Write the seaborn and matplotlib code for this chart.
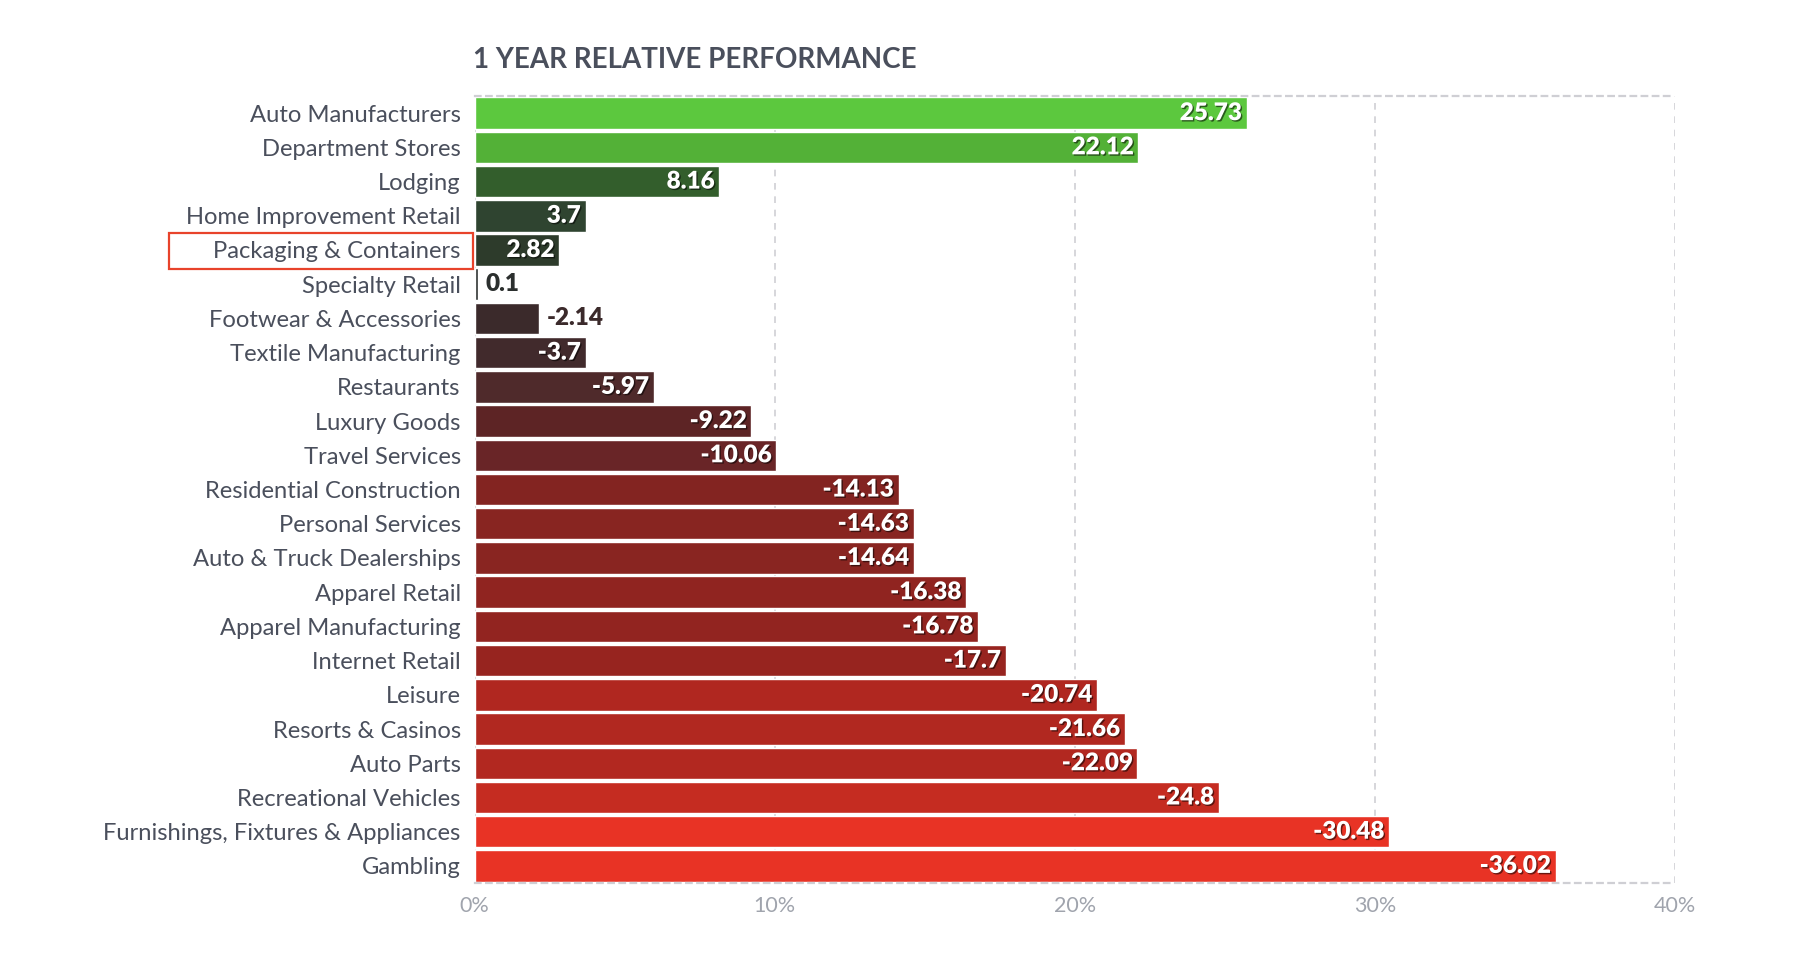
import numpy as np
import pandas as pd
import matplotlib
matplotlib.use('Agg')
import matplotlib.pyplot as plt
import matplotlib.patheffects as pe
from matplotlib.patches import Rectangle
import seaborn as sns

# chart data
industries = ['Auto Manufacturers', 'Department Stores', 'Lodging', 'Home Improvement Retail',
              'Packaging & Containers', 'Specialty Retail', 'Footwear & Accessories',
              'Textile Manufacturing', 'Restaurants', 'Luxury Goods', 'Travel Services',
              'Residential Construction', 'Personal Services', 'Auto & Truck Dealerships',
              'Apparel Retail', 'Apparel Manufacturing', 'Internet Retail', 'Leisure',
              'Resorts & Casinos', 'Auto Parts', 'Recreational Vehicles',
              'Furnishings, Fixtures & Appliances', 'Gambling']
performance = [25.73, 22.12, 8.16, 3.7, 2.82, 0.1, -2.14, -3.7, -5.97, -9.22, -10.06,
               -14.13, -14.63, -14.64, -16.38, -16.78, -17.7, -20.74, -21.66, -22.09,
               -24.8, -30.48, -36.02]
bar_colors = ['#5cc83e', '#53b137', '#335e2c', '#2f4430', '#2d3b2b', '#2b2f2e', '#3b2a2b',
              '#412a2c', '#4f2a2b', '#5d2425', '#692527', '#832421', '#882521', '#892521',
              '#902420', '#922420', '#97241f', '#b02720', '#b12820', '#b22820', '#c52c21',
              '#e83325', '#e83325']
tick_values = [0, 10, 20, 30, 40]
tick_labels = ['0%', '10%', '20%', '30%', '40%']
highlight = 'Packaging & Containers'

sns.set_style('white')
plt.rcParams['font.family'] = ['Lato', 'DejaVu Sans']

df = pd.DataFrame({'industry': industries, 'value': performance})
df['size'] = df['value'].abs()

fig = plt.figure(figsize=(18.1, 9.64), dpi=100)
ax = fig.add_axes([0.2622, 0.0840, 0.6632, 0.8164])

sns.barplot(data=df, y='industry', x='size', hue='industry', palette=bar_colors,
            dodge=False, legend=False, width=0.92, saturation=1, ax=ax, zorder=2)

ax.set_xlim(0, 40)
ax.set_ylim(len(industries) - 0.5, -0.5)
ax.set_xticks(tick_values)
ax.set_xticklabels(tick_labels)
ax.set_xlabel('')
ax.set_ylabel('')

# grid + borders
ax.set_axisbelow(True)
ax.xaxis.grid(True, color='#cfcfd4', linestyle=(0, (4, 4)), linewidth=1.2)
ax.yaxis.grid(False)
for side in ['left', 'right']:
    ax.spines[side].set_visible(False)
for side in ['top', 'bottom']:
    ax.spines[side].set_color('#cfcfd4')
    ax.spines[side].set_linestyle((0, (2.5, 2.5)))
    ax.spines[side].set_linewidth(1.6)

ax.tick_params(axis='y', length=0, pad=10, labelsize=17.1, labelcolor='#4a4f5c')
ax.tick_params(axis='x', length=0, pad=9, labelsize=15.5, labelcolor='#a0a4ad')

# value labels
shadow = [pe.withSimplePatchShadow(offset=(1, -1), shadow_rgbFace='#000000', alpha=0.55)]
for i, (v, c) in enumerate(zip(performance, bar_colors)):
    txt = f'{v:g}'
    if abs(v) > 2.5:
        ax.annotate(txt, (abs(v), i), xytext=(-3.5, 0), textcoords='offset points',
                    ha='right', va='center', color='white', fontsize=17.5,
                    fontweight='heavy', path_effects=shadow, zorder=4)
    else:
        ax.annotate(txt, (abs(v), i), xytext=(6, 0), textcoords='offset points',
                    ha='left', va='center', color=c, fontsize=17.5,
                    fontweight='heavy', zorder=4)

# highlight box around one category label
hi = industries.index(highlight)
trans = matplotlib.transforms.blended_transform_factory(ax.transAxes, ax.transData)
ax.add_patch(Rectangle((-0.2546, hi - 0.505), 0.2529, 1.06, transform=trans,
                       fill=False, edgecolor='#e8432b', linewidth=1.6, clip_on=False))

fig.text(0.2615, 1 - 60 / 964, '1 YEAR RELATIVE PERFORMANCE', fontsize=20,
         fontweight='bold', color='#4a4f5c', ha='left', va='center')

plt.savefig('out.png', dpi=100, facecolor='white')
